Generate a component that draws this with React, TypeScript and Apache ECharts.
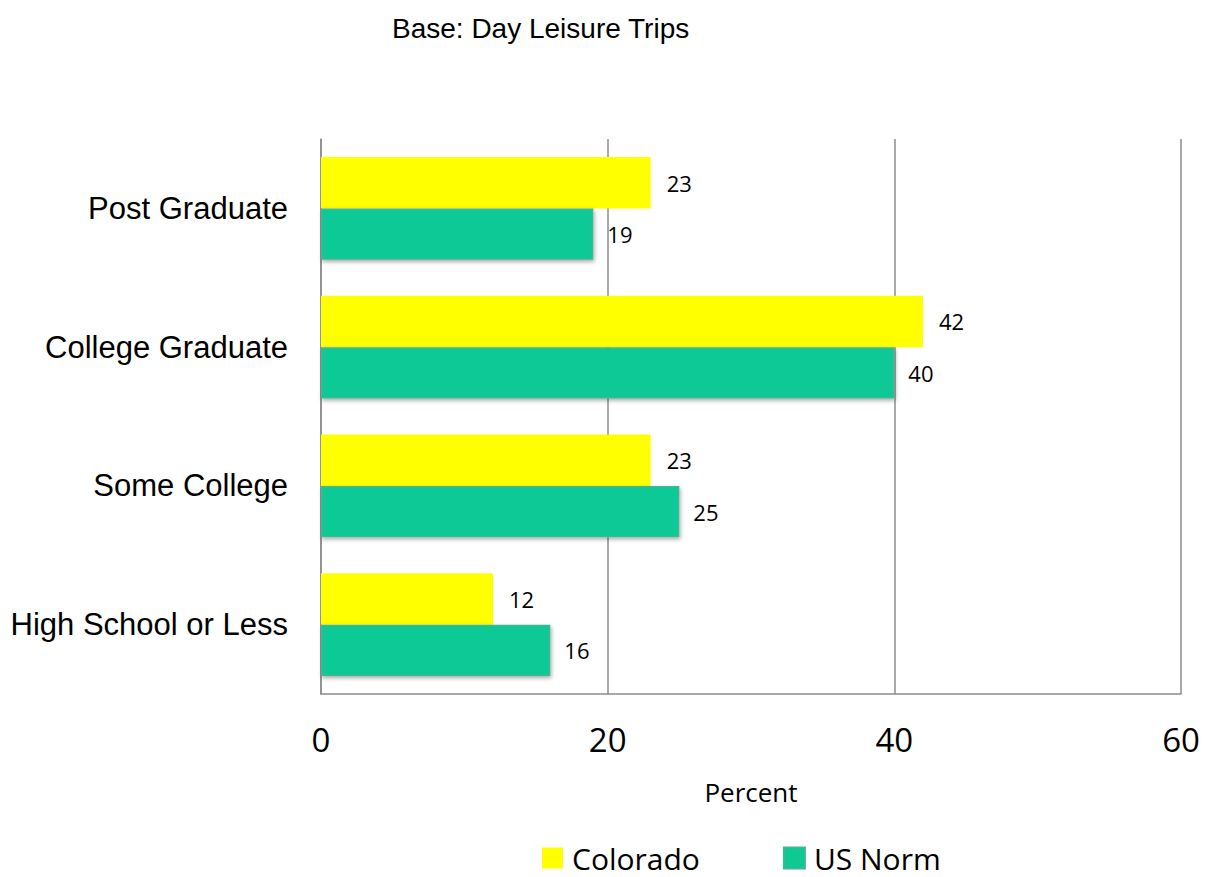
import React, { useEffect, useRef } from "react";
import * as echarts from "echarts";

const categories = ["High School or Less", "Some College", "College Graduate", "Post Graduate"];
const colorado = [12, 23, 42, 23];
const usNorm = [16, 25, 40, 19];
const xTicks = { min: 0, max: 60, interval: 20 };
const titleText = "Base: Day Leisure Trips";
const axisTitle = "Percent";

export default function App() {
  const ref = useRef<HTMLDivElement>(null);
  useEffect(() => {
    if (!ref.current) return;
    const chart = echarts.init(ref.current, null, { renderer: "svg" });
    chart.setOption({
      animation: false,
      backgroundColor: "#ffffff",
      title: {
        text: titleText,
        left: 387,
        top: 9,
        textStyle: { fontFamily: "Liberation Sans, Arial", fontSize: 28, fontWeight: "normal", color: "#000" },
      },
      legend: {
        data: ["Colorado", "US Norm"],
        left: 542,
        top: 843,
        padding: 0,
        itemWidth: 21,
        itemHeight: 21,
        itemGap: 83,
        icon: "rect",
        textStyle: { fontFamily: "Open Sans, Noto Sans", fontSize: 30, color: "#000", padding: [0, 0, 0, 4] },
      },
      grid: { left: 321, right: 24, top: 139, bottom: 183, containLabel: false },
      xAxis: {
        type: "value",
        min: xTicks.min,
        max: xTicks.max,
        interval: xTicks.interval,
        name: axisTitle,
        nameLocation: "middle",
        nameGap: 85,
        nameTextStyle: { fontFamily: "Open Sans, Noto Sans", fontSize: 26, color: "#000" },
        axisLine: { show: true, lineStyle: { color: "#8c8c8c", width: 1.5 } },
        axisTick: { show: false },
        axisLabel: { margin: 29, fontFamily: "Open Sans, Noto Sans", fontSize: 33, color: "#000" },
        splitLine: { show: true, lineStyle: { color: "#8c8c8c", width: 1.5 } },
      },
      yAxis: {
        type: "category",
        data: categories,
        axisLine: { show: true, lineStyle: { color: "#8c8c8c", width: 1.5 } },
        axisTick: { show: false },
        axisLabel: { margin: 33, fontFamily: "Liberation Sans Narrow, Liberation Sans", fontSize: 31, color: "#000" },
      },
      series: [
        {
          name: "Colorado",
          type: "bar",
          data: colorado,
          barGap: "0%",
          barCategoryGap: "26%",
          itemStyle: { color: "#ffff00" },
          label: { show: true, position: "right", distance: 16, fontFamily: "Open Sans, Noto Sans", fontSize: 22, color: "#000" },
        },
        {
          name: "US Norm",
          type: "bar",
          data: usNorm,
          barGap: "0%",
          barCategoryGap: "26%",
          itemStyle: {
            color: "#0cc995",
            borderColor: "#3fb893",
            borderWidth: 1.5,
            shadowColor: "rgba(0,0,0,0.35)",
            shadowBlur: 4,
            shadowOffsetX: 1,
            shadowOffsetY: 2,
          },
          label: { show: true, position: "right", distance: 14, fontFamily: "Open Sans, Noto Sans", fontSize: 22, color: "#000" },
        },
      ],
    });
    return () => chart.dispose();
  }, []);
  return <div ref={ref} style={{ position: "fixed", left: 0, top: 0, width: 1205, height: 877 }} />;
}
